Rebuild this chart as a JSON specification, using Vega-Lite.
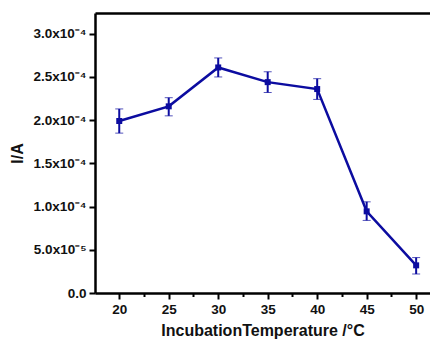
{
  "$schema": "https://vega.github.io/schema/vega-lite/v6.json",
  "width": 335,
  "height": 280,
  "autosize": {"type": "none"},
  "padding": {"left": 95, "top": 13, "right": 0, "bottom": 48},
  "background": "white",
  "config": {
    "view": {"stroke": null},
    "axis": {
      "domainColor": "black", "domainWidth": 2.5,
      "tickColor": "black", "tickWidth": 2,
      "labelFont": "Liberation Sans", "labelFontWeight": "bold", "labelFontSize": 13.5, "labelColor": "#111",
      "titleFont": "Liberation Sans", "titleFontWeight": "bold", "titleFontSize": 16, "titleColor": "#111",
      "grid": false
    }
  },
  "data": {
    "values": [
      {"t": 20, "i": 1.99e-4, "lo": 1.85e-4, "hi": 2.13e-4},
      {"t": 25, "i": 2.16e-4, "lo": 2.05e-4, "hi": 2.26e-4},
      {"t": 30, "i": 2.61e-4, "lo": 2.50e-4, "hi": 2.72e-4},
      {"t": 35, "i": 2.44e-4, "lo": 2.32e-4, "hi": 2.56e-4},
      {"t": 40, "i": 2.36e-4, "lo": 2.24e-4, "hi": 2.48e-4},
      {"t": 45, "i": 0.945e-4, "lo": 0.84e-4, "hi": 1.055e-4},
      {"t": 50, "i": 0.32e-4, "lo": 0.22e-4, "hi": 0.41e-4}
    ]
  },
  "layer": [
    {
      "mark": {"type": "line", "color": "#0c0ca0", "strokeWidth": 2.5, "point": {"shape": "square", "size": 36, "filled": true, "color": "#0c0ca0"}},
      "encoding": {
        "x": {
          "field": "t", "type": "quantitative",
          "scale": {"domain": [17.55, 51.4], "nice": false, "zero": false},
          "axis": {
            "title": "IncubationTemperature /°C",
            "values": [20, 22.5, 25, 27.5, 30, 32.5, 35, 37.5, 40, 42.5, 45, 47.5, 50],
            "labelExpr": "datum.value % 5 == 0 ? datum.value : ''",
            "tickSize": {"condition": {"test": "datum.value % 5 == 0", "value": 6}, "value": 3.5},
            "labelPadding": 3,
            "titlePadding": 7
          }
        },
        "y": {
          "field": "i", "type": "quantitative",
          "scale": {"domain": [0, 3.24e-4], "nice": false},
          "axis": {
            "title": "I/A",
            "values": [0, 2.5e-5, 5e-5, 7.5e-5, 1e-4, 1.25e-4, 1.5e-4, 1.75e-4, 2e-4, 2.25e-4, 2.5e-4, 2.75e-4, 3e-4],
            "labelExpr": "abs(datum.value/5e-5 - round(datum.value/5e-5)) > 0.01 ? '' : datum.value == 0 ? '0.0' : datum.value < 9e-5 ? format(datum.value*1e5, '.1f') + 'x10⁻⁵' : format(datum.value*1e4, '.1f') + 'x10⁻⁴'",
            "tickSize": {"condition": {"test": "abs(datum.value/5e-5 - round(datum.value/5e-5)) < 0.01", "value": 6}, "value": 3.5},
            "labelPadding": 3,
            "titlePadding": 8
          }
        }
      }
    },
    {
      "mark": {"type": "errorbar", "ticks": {"size": 8, "color": "#0c0ca0", "strokeWidth": 2}, "rule": {"color": "#0c0ca0", "strokeWidth": 2}},
      "encoding": {
        "x": {"field": "t", "type": "quantitative", "axis": {"orient": "top", "labels": false, "ticks": false, "title": null}},
        "y": {"field": "lo", "type": "quantitative", "title": "I/A"},
        "y2": {"field": "hi"}
      }
    }
  ],
  "resolve": {"axis": {"x": "independent"}}
}
